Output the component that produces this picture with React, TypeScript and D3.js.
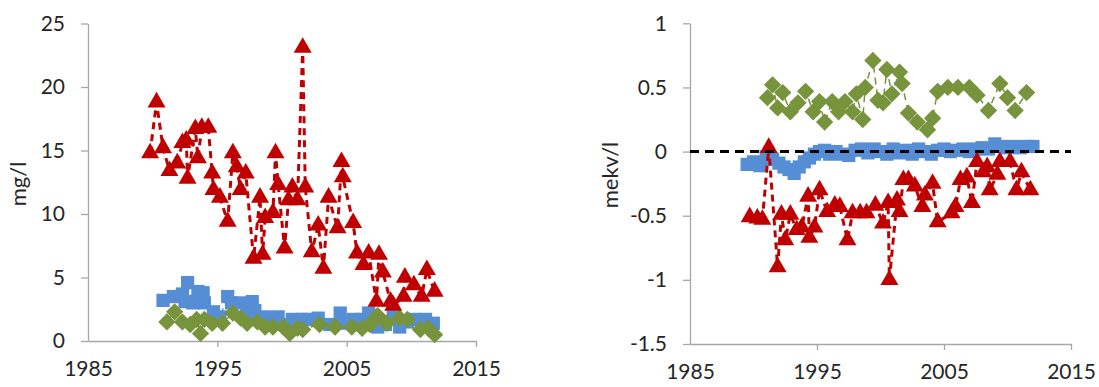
import * as d3 from "d3";
import { useRef, useEffect } from "react";

const width = 1099;
const height = 387;

const xTicks = [1985, 1995, 2005, 2015];
const leftYTicks = [0, 5, 10, 15, 20, 25];
const rightYTicks = [-1.5, -1, -0.5, 0, 0.5, 1];

// left panel (mg/l)
const leftRedYears = [1989.8, 1990.3, 1990.8, 1991.3, 1991.9, 1992.3, 1992.6, 1992.7, 1993.3, 1993.5, 1993.8, 1994.3, 1994.6, 1994.7, 1995.2, 1995.8, 1996.2, 1996.5, 1996.8, 1997.2, 1997.8, 1998.3, 1998.5, 1998.7, 1999.3, 1999.5, 1999.7, 2000.2, 2000.5, 2000.8, 2001.2, 2001.6, 2001.8, 2002.3, 2002.8, 2003.2, 2003.6, 2004.3, 2004.6, 2004.7, 2005.5, 2005.8, 2006.3, 2006.7, 2007.3, 2007.5, 2007.8, 2008.4, 2008.6, 2009.4, 2009.5, 2010.2, 2010.8, 2011.2, 2011.8];
const leftRedValues = [14.8, 18.8, 15.2, 13.4, 14.0, 15.6, 15.8, 12.8, 16.7, 14.4, 16.8, 16.8, 13.2, 11.9, 11.3, 9.4, 14.8, 13.7, 11.9, 13.2, 6.5, 11.3, 6.8, 9.7, 10.1, 14.8, 12.3, 7.3, 11.1, 12.1, 11.1, 23.1, 12.1, 7.0, 9.1, 5.7, 11.3, 8.9, 14.1, 12.9, 9.3, 6.9, 6.0, 6.9, 3.1, 6.8, 5.4, 3.1, 2.8, 3.5, 5.0, 4.4, 3.5, 5.6, 3.9];

const leftBlueYears = [1990.8, 1991.6, 1992.3, 1992.5, 1992.7, 1993.1, 1993.5, 1993.9, 1994.0, 1994.7, 1995.2, 1995.8, 1996.1, 1996.8, 1997.3, 1997.5, 1997.7, 1997.9, 1998.7, 1999.1, 1999.7, 2000.2, 2000.8, 2001.6, 2001.9, 2002.8, 2003.7, 2004.5, 2004.6, 2005.5, 2006.2, 2006.7, 2007.4, 2008.0, 2008.6, 2009.1, 2009.7, 2010.3, 2011.1, 2011.7];
const leftBlueValues = [3.2, 3.5, 3.7, 3.1, 4.6, 3.0, 3.9, 3.8, 3.0, 2.3, 1.9, 3.5, 3.0, 3.0, 2.6, 1.8, 3.1, 2.4, 1.9, 1.7, 1.9, 1.3, 1.7, 1.7, 1.7, 1.8, 1.3, 2.2, 1.4, 1.7, 1.7, 2.2, 1.1, 1.3, 1.9, 1.1, 1.5, 1.7, 1.7, 1.4];

const leftGreenYears = [1991.1, 1991.7, 1992.3, 1992.9, 1993.4, 1993.7, 1994.0, 1994.6, 1995.4, 1996.2, 1996.8, 1997.3, 1998.1, 1998.7, 1999.3, 2000.1, 2000.6, 2001.2, 2001.6, 2002.9, 2004.1, 2005.4, 2006.2, 2006.8, 2007.4, 2008.1, 2009.1, 2009.7, 2010.7, 2011.3, 2011.8];
const leftGreenValues = [1.5, 2.3, 1.5, 1.3, 1.7, 0.6, 1.7, 1.4, 1.4, 2.2, 1.8, 1.4, 1.5, 1.1, 1.1, 1.1, 0.6, 1.0, 0.9, 1.3, 1.1, 1.1, 1.0, 1.3, 2.0, 1.4, 1.8, 1.7, 0.9, 1.0, 0.5];

// right panel (mekv/l)
const rightRedYears = [1989.7, 1990.3, 1990.7, 1991.2, 1991.9, 1992.2, 1992.5, 1992.9, 1993.4, 1993.8, 1994.3, 1994.4, 1994.8, 1995.2, 1995.8, 1996.4, 1996.8, 1997.4, 1997.8, 1998.4, 1998.9, 1999.6, 2000.2, 2000.6, 2000.7, 2001.3, 2001.5, 2001.8, 2002.2, 2002.7, 2003.3, 2003.5, 2004.1, 2004.5, 2005.6, 2005.9, 2006.3, 2006.8, 2007.2, 2007.6, 2008.1, 2008.4, 2008.6, 2009.2, 2009.4, 2010.2, 2010.7, 2011.1, 2011.8];
const rightRedValues = [-0.51, -0.52, -0.53, 0.03, -0.9, -0.49, -0.69, -0.49, -0.61, -0.59, -0.35, -0.67, -0.59, -0.3, -0.47, -0.42, -0.43, -0.69, -0.48, -0.48, -0.48, -0.42, -0.56, -0.4, -1.0, -0.38, -0.47, -0.22, -0.22, -0.27, -0.43, -0.34, -0.25, -0.55, -0.48, -0.43, -0.22, -0.2, -0.4, -0.08, -0.16, -0.12, -0.3, -0.18, -0.08, -0.08, -0.3, -0.16, -0.3];

const rightBlueYears = [1989.5, 1990.0, 1990.5, 1991.0, 1991.5, 1992.0, 1992.4, 1992.8, 1993.2, 1993.6, 1994.0, 1994.4, 1994.8, 1995.2, 1995.6, 1996.0, 1996.5, 1997.0, 1997.5, 1998.0, 1998.5, 1999.0, 1999.5, 2000.0, 2000.5, 2001.0, 2001.5, 2002.0, 2002.5, 2003.0, 2003.5, 2004.0, 2004.5, 2005.0, 2005.5, 2006.0, 2006.5, 2007.0, 2007.5, 2008.0, 2008.5, 2009.0, 2009.5, 2010.0, 2010.5, 2011.0, 2011.5, 2012.0];
const rightBlueValues = [-0.1, -0.08, -0.11, -0.04, -0.06, -0.09, -0.12, -0.14, -0.17, -0.12, -0.08, -0.05, -0.02, 0.0, 0.01, -0.02, 0.0, -0.02, -0.03, 0.01, 0.02, -0.01, 0.02, 0.0, -0.02, 0.02, -0.01, 0.01, -0.02, 0.02, 0.0, -0.02, 0.01, 0.02, 0.0, 0.01, 0.02, 0.0, 0.02, 0.03, 0.02, 0.06, 0.04, 0.03, 0.04, 0.03, 0.04, 0.04];

const rightGreenYears = [1991.1, 1991.5, 1991.9, 1992.3, 1992.9, 1993.5, 1994.1, 1994.7, 1995.2, 1995.6, 1996.2, 1996.7, 1997.2, 1997.8, 1998.1, 1998.6, 1998.8, 1999.4, 1999.8, 2000.2, 2000.5, 2000.9, 2001.5, 2001.7, 2002.2, 2002.9, 2003.7, 2004.1, 2004.5, 2005.3, 2006.1, 2007.0, 2007.6, 2008.5, 2009.4, 2010.0, 2010.6, 2011.5];
const rightGreenValues = [0.42, 0.52, 0.34, 0.46, 0.31, 0.38, 0.47, 0.31, 0.39, 0.23, 0.39, 0.31, 0.39, 0.31, 0.45, 0.25, 0.5, 0.71, 0.4, 0.38, 0.64, 0.45, 0.62, 0.53, 0.3, 0.23, 0.17, 0.26, 0.47, 0.5, 0.5, 0.5, 0.44, 0.32, 0.53, 0.42, 0.32, 0.46];

const red = "#c00000";
const blue = "#558ed5";
const green = "#77933c";
const axisColor = "#a6a6a6";
const font = "Lato, 'Open Sans', sans-serif";

interface Pt {
  year: number;
  value: number;
}

const zip = (years: number[], values: number[]): Pt[] =>
  years.map((year, i) => ({ year, value: values[i] }));

interface SeriesDef {
  data: Pt[];
  color: string;
  shape: "square" | "diamond" | "triangle";
}

interface PanelProps {
  x0: number;
  x1: number;
  yTop: number;
  yBottom: number;
  yDomain: [number, number];
  yTicks: number[];
  label: string;
  labelX: number;
  labelY: number;
  series: SeriesDef[];
  zeroLine?: boolean;
}

const symbolPath = (shape: SeriesDef["shape"]) => {
  if (shape === "triangle") return d3.symbol(d3.symbolTriangle, 140)() as string;
  if (shape === "square") return d3.symbol(d3.symbolSquare, 175)() as string;
  return d3.symbol(d3.symbolSquare, 150)() as string;
};

const Panel = ({ x0, x1, yTop, yBottom, yDomain, yTicks, label, labelX, labelY, series, zeroLine }: PanelProps) => {
  const gx = useRef<SVGGElement>(null);
  const gy = useRef<SVGGElement>(null);

  const x = d3.scaleLinear().domain([1985, 2015]).range([x0, x1]);
  const y = d3.scaleLinear().domain(yDomain).range([yBottom, yTop]);

  useEffect(() => {
    if (!gx.current || !gy.current) return;
    const gxs = d3.select(gx.current);
    gxs
      .call(d3.axisBottom(x).tickValues(xTicks).tickFormat(d3.format("d")).tickSize(6).tickSizeOuter(0).tickPadding(14))
      .call((g) => g.selectAll(".domain, .tick line").attr("stroke", axisColor).attr("stroke-width", 1.3))
      .call((g) => g.selectAll(".tick").filter((d) => d === 1985).select("line").remove())
      .call((g) =>
        g.selectAll("text").attr("fill", "#262626").attr("font-size", 21).attr("font-family", font)
      );

    const gys = d3.select(gy.current);
    gys
      .call(d3.axisLeft(y).tickValues(yTicks).tickFormat((d) => String(d)).tickSize(7).tickSizeOuter(0).tickPadding(16))
      .call((g) => g.selectAll(".domain, .tick line").attr("stroke", axisColor).attr("stroke-width", 1.3))
      .call((g) =>
        g.selectAll("text").attr("fill", "#262626").attr("font-size", 21).attr("font-family", font)
      );

    return () => {
      gxs.selectAll("*").remove();
      gys.selectAll("*").remove();
    };
  }, [x0, x1, yTop, yBottom]);

  const line = d3
    .line<Pt>()
    .x((d) => x(d.year))
    .y((d) => y(d.value));

  return (
    <g>
      <g ref={gx} transform={`translate(0, ${yBottom})`} />
      <g ref={gy} transform={`translate(${x0}, 0)`} />
      {series.map((s, si) => (
        <g key={si}>
          <path
            d={line(s.data) as string}
            fill="none"
            stroke={s.color}
            strokeWidth={s.shape === "triangle" ? 3 : 1.5}
            strokeDasharray="7,5"
          />
          {s.data.map((d, i) => (
            <path
              key={i}
              d={symbolPath(s.shape)}
              transform={`translate(${x(d.year)}, ${y(d.value)})${s.shape === "diamond" ? " rotate(45)" : ""}`}
              fill={s.color}
            />
          ))}
        </g>
      ))}
      {zeroLine && (
        <line
          x1={x(1985)}
          x2={x(2015)}
          y1={y(0)}
          y2={y(0)}
          stroke="#000"
          strokeWidth={3}
          strokeDasharray="9,6"
        />
      )}
      <text
        transform={`translate(${labelX}, ${labelY}) rotate(-90)`}
        textAnchor="middle"
        fontSize={22}
        fontFamily={font}
        fill="#262626"
      >
        {label}
      </text>
    </g>
  );
};

const App = () => {
  return (
    <svg
      width={width}
      height={height}
      viewBox={`0 0 ${width} ${height}`}
      style={{ position: "absolute", left: 0, top: 0, background: "#fff" }}
    >
      <Panel
        x0={88}
        x1={476}
        yTop={23.5}
        yBottom={341}
        yDomain={[0, 25]}
        yTicks={leftYTicks}
        label="mg/l"
        labelX={26}
        labelY={184}
        series={[
          { data: zip(leftBlueYears, leftBlueValues), color: blue, shape: "square" },
          { data: zip(leftGreenYears, leftGreenValues), color: green, shape: "diamond" },
          { data: zip(leftRedYears, leftRedValues), color: red, shape: "triangle" },
        ]}
      />
      <Panel
        x0={690}
        x1={1071}
        yTop={23.3}
        yBottom={344}
        yDomain={[-1.5, 1]}
        yTicks={rightYTicks}
        label="mekv/l"
        labelX={618}
        labelY={175}
        zeroLine
        series={[
          { data: zip(rightBlueYears, rightBlueValues), color: blue, shape: "square" },
          { data: zip(rightGreenYears, rightGreenValues), color: green, shape: "diamond" },
          { data: zip(rightRedYears, rightRedValues), color: red, shape: "triangle" },
        ]}
      />
    </svg>
  );
};

export default App;
